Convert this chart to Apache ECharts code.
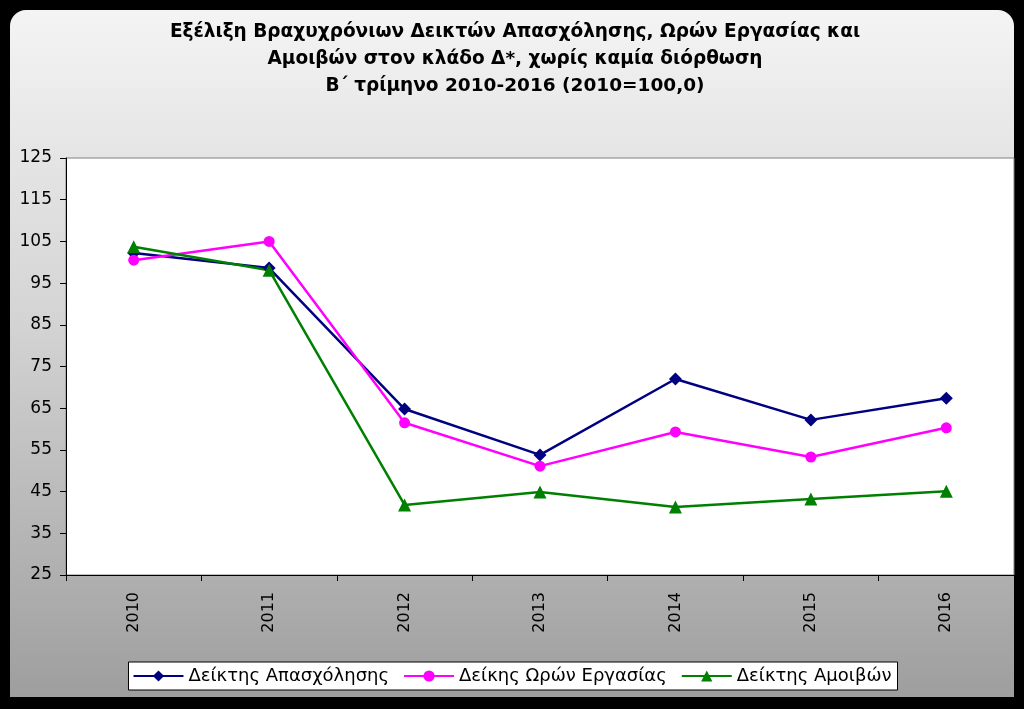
<!DOCTYPE html>
<html><head><meta charset="utf-8">
<script src="https://cdn.jsdelivr.net/npm/echarts@6/dist/echarts.min.js"></script>
<style>html,body{margin:0;padding:0;background:#000}#c{width:1024px;height:709px}</style>
</head><body><div id="c"></div>
<script>
const categories = ['2010','2011','2012','2013','2014','2015','2016'];
const employment = [102.2, 98.6, 64.8, 53.8, 72.0, 62.2, 67.4];
const hours = [100.5, 105.0, 61.5, 51.1, 59.3, 53.3, 60.3];
const wages = [103.7, 98.1, 41.8, 44.9, 41.3, 43.2, 45.1];
const seriesNames = ['Δείκτης Απασχόλησης', 'Δείκης Ωρών Εργασίας', 'Δείκτης Αμοιβών'];
const titleLines = ['Εξέλιξη Βραχυχρόνιων Δεικτών Απασχόλησης, Ωρών Εργασίας και', 'Αμοιβών στον κλάδο Δ*, χωρίς καμία διόρθωση', 'Β΄ τρίμηνο 2010-2016 (2010=100,0)'];

const chart = echarts.init(document.getElementById('c'));
const font = 'DejaVu Sans, Verdana, sans-serif';
chart.setOption({
  backgroundColor: '#000',
  animation: false,
  graphic: [{
    type: 'rect', z: -10, silent: true,
    shape: {x: 10, y: 10, width: 1004, height: 687, r: [16, 16, 0, 0]},
    style: {fill: new echarts.graphic.LinearGradient(0, 0, 0, 1, [
      {offset: 0, color: '#f4f4f4'}, {offset: 0.45, color: '#d4d4d4'}, {offset: 1, color: '#9e9e9e'}])}
  }],
  title: {
    text: titleLines.join('\n'), left: 510, textAlign: 'center', top: 14,
    textStyle: {fontFamily: font, fontWeight: 'bold', fontSize: 18.5, lineHeight: 27, color: '#000'}
  },
  legend: {
    bottom: 19, left: 'center',
    backgroundColor: '#fff', borderColor: '#000', borderWidth: 1, borderRadius: 0,
    padding: [5, 6, 5, 4], itemGap: 14, itemWidth: 50, itemHeight: 14,
    textStyle: {fontFamily: font, fontSize: 18, color: '#000'},
    data: seriesNames
  },
  grid: {left: 66, right: 10, top: 158, bottom: 134, show: true, backgroundColor: '#fff', borderColor: '#808080', borderWidth: 1},
  xAxis: {
    type: 'category', data: categories, boundaryGap: true,
    axisLine: {lineStyle: {color: '#000', width: 1}},
    axisTick: {show: true, inside: false, length: 6, lineStyle: {color: '#000'}},
    axisLabel: {rotate: 90, margin: 17, fontFamily: font, fontSize: 16, color: '#000'}
  },
  yAxis: {
    type: 'value', min: 25, max: 125, interval: 10,
    axisLine: {show: true, lineStyle: {color: '#000', width: 1}},
    axisTick: {show: true, length: 6, lineStyle: {color: '#000'}},
    splitLine: {show: false},
    axisLabel: {margin: 14, fontFamily: font, fontSize: 17, color: '#000'}
  },
  series: [
    {name: seriesNames[0], type: 'line', data: employment, symbol: 'diamond', symbolSize: 13,
      lineStyle: {color: '#000080', width: 2.5}, itemStyle: {color: '#000080'}},
    {name: seriesNames[1], type: 'line', data: hours, symbol: 'circle', symbolSize: 11,
      lineStyle: {color: '#ff00ff', width: 2.5}, itemStyle: {color: '#ff00ff'}},
    {name: seriesNames[2], type: 'line', data: wages, symbol: 'triangle', symbolSize: 13,
      lineStyle: {color: '#008000', width: 2.5}, itemStyle: {color: '#008000'}}
  ]
});
</script></body></html>
